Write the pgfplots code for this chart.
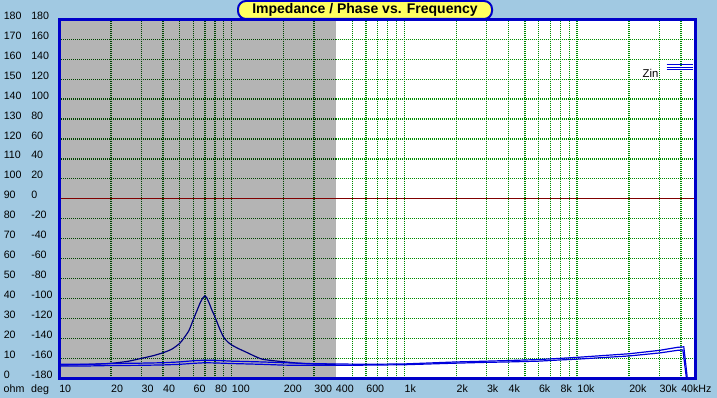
\documentclass[border=0pt]{standalone}
\usepackage{pgfplots}
\pgfplotsset{compat=1.18}
\usepackage{fontspec}
\setmainfont{Liberation Sans}
\definecolor{bgblue}{RGB}{161,201,226}
\definecolor{graybg}{RGB}{180,180,180}
\definecolor{gridgreen}{RGB}{0,140,0}
\definecolor{darkgrid}{RGB}{0,70,0}
\definecolor{borderblue}{RGB}{0,0,200}
\definecolor{zinblue}{RGB}{0,0,220}
\definecolor{navyc}{RGB}{0,0,128}
\definecolor{darkred}{RGB}{128,0,0}
\definecolor{titleyellow}{RGB}{255,255,96}
\newcommand{\yl}[2]{\makebox[20.6pt][l]{#1}#2}
\tikzset{gdot/.style={line width=0.9pt, dash pattern=on 0.75pt off 0.75pt}}
\begin{document}
\begin{tikzpicture}
\fill[bgblue] (0,0) rectangle (537.75pt,298.5pt);
\fill[white] (44.25pt,14.775pt) rectangle (521.25pt,284.025pt);
\fill[graybg] (44.25pt,14.775pt) rectangle (251.8pt,284.025pt);
\begin{axis}[
  at={(44.25pt,14.775pt)}, anchor=south west,
  scale only axis, width=477pt, height=269.25pt,
  xmode=log, xmin=10, xmax=48200, ymin=0, ymax=180,
  log basis x=10,
  axis line style={borderblue, line width=2.25pt},
  axis on top,
  major tick length=0pt, minor tick num=0,
  xtick={10,20,30,40,50,60,70,80,90,100,200,300,400,500,600,700,800,900,1000,2000,3000,4000,5000,6000,7000,8000,9000,10000,20000,30000,40000},
  xticklabels={10,20,30,40,{},60,{},80,{},100,200,300,400,{},600,{},{},{},1k,2k,3k,4k,{},6k,{},8k,{},10k,20k,30k,40kHz},
  xticklabel style={anchor=north west, inner sep=0pt, yshift=-5pt, font=\fontsize{8}{9.6}\selectfont},
  ytick={0,10,...,180},
  yticklabels={\yl{0}{-180},\yl{10}{-160},\yl{20}{-140},\yl{30}{-120},\yl{40}{-100},\yl{50}{-80},\yl{60}{-60},\yl{70}{-40},\yl{80}{-20},\yl{90}{0},\yl{100}{20},\yl{110}{40},\yl{120}{60},\yl{130}{80},\yl{140}{100},\yl{150}{120},\yl{160}{140},\yl{170}{160},\yl{180}{180}},
  yticklabel style={anchor=west, inner sep=0pt, xshift=-41.6pt, yshift=2.7pt, font=\fontsize{8}{9.6}\selectfont},
  clip=true,
]
% grid, white region
\pgfplotsinvokeforeach{500,600,700,800,900,1000,2000,3000,4000,5000,6000,7000,8000,9000,10000,20000,30000,40000}{
  \draw[gridgreen, gdot] (axis cs:#1,0) -- (axis cs:#1,180);
}
\pgfplotsinvokeforeach{10,20,30,40,50,60,70,80,100,110,120,130,140,150,160,170}{
  \draw[gridgreen, gdot] (axis cs:400,#1) -- (axis cs:48200,#1);
}
% grid, gray region
\pgfplotsinvokeforeach{20,30,40,50,60,70,80,90,100,200,300}{
  \draw[darkgrid, gdot] (axis cs:#1,0) -- (axis cs:#1,180);
}
\pgfplotsinvokeforeach{10,20,30,40,50,60,70,80,100,110,120,130,140,150,160,170}{
  \draw[darkgrid, gdot] (axis cs:10,#1) -- (axis cs:400,#1);
}
% zero phase line
\addplot[darkred, line width=0.75pt] coordinates {(10,90) (48200,90)};
% resonance curve
\addplot[navyc, line width=0.9pt, smooth, tension=0.4] coordinates {
(10,6.6) (15,7.0) (20,7.5) (25,8.5) (30,10) (35,11.3) (40,12.8) (45,14.6) (50,17.5) (53,20.3) (56.6,24) (60,29.5) (63,34) (66,38.2) (68.5,40.6) (70,41.3) (71.5,40.6) (74,37.8) (77,34) (80,30.8) (85,25) (90,20.5) (95,18.2) (100,16.7) (110,14.8) (120,13.3) (135,11.2) (150,9.6) (175,8.8) (200,8.3) (250,7.5) (300,7.2) (400,7.0)
};
% Zin upper
\addplot[zinblue, line width=0.9pt] coordinates {
(10,7.0) (15,7.0) (20,7.4) (30,7.6) (40,7.8) (50,8.2) (60,8.8) (70,9.1) (80,9.0) (100,8.6) (150,8.2) (200,7.8) (300,7.3) (400,7.2) (600,7.0) (1000,7.2) (2000,8.2) (3000,8.6) (4000,8.9) (6000,9.4) (8000,10.0) (10000,10.5) (20000,12.3) (30000,14.0) (38000,15.5) (41500,15.8) (42500,8) (43500,0)
};
% Zin lower
\addplot[zinblue, line width=0.9pt] coordinates {
(10,6.2) (15,6.2) (20,6.4) (30,6.5) (40,6.7) (50,7.0) (60,7.5) (70,7.8) (80,7.7) (100,7.4) (150,7.0) (200,6.6) (300,6.5) (400,6.5) (600,6.6) (1000,6.8) (2000,7.6) (3000,8.0) (4000,8.2) (6000,8.6) (8000,9.2) (10000,9.6) (20000,11.2) (30000,12.7) (38000,14.0) (41000,14.2) (42000,7) (43000,0)
};
\end{axis}
% bottom labels
\node[anchor=north west, inner sep=0pt, font=\fontsize{8}{9.6}\selectfont] at (2.6pt,9.8pt) {ohm};
\node[anchor=north west, inner sep=0pt, font=\fontsize{8}{9.6}\selectfont] at (23.2pt,9.8pt) {deg};
% title
\node[draw=borderblue, line width=1.5pt, fill=titleyellow, rounded corners=6pt, minimum width=190.5pt, minimum height=13.5pt, inner sep=0pt, font=\bfseries\fontsize{10.5}{12}\selectfont] at (273.75pt,291pt) {Impedance / Phase vs. Frequency};
% legend
\node[anchor=east, inner sep=0pt, font=\fontsize{8.5}{10}\selectfont] at (494pt,243.75pt) {Zin};
\draw[zinblue, line width=0.75pt] (500pt,249.75pt) -- (519.75pt,249.75pt);
\draw[zinblue, line width=0.75pt] (500pt,248pt) -- (519.75pt,248pt);
\draw[zinblue, line width=0.75pt] (500pt,246pt) -- (519.75pt,246pt);
\pgfresetboundingbox
\useasboundingbox (0,0) rectangle (537.75pt,298.5pt);
\end{tikzpicture}
\end{document}
